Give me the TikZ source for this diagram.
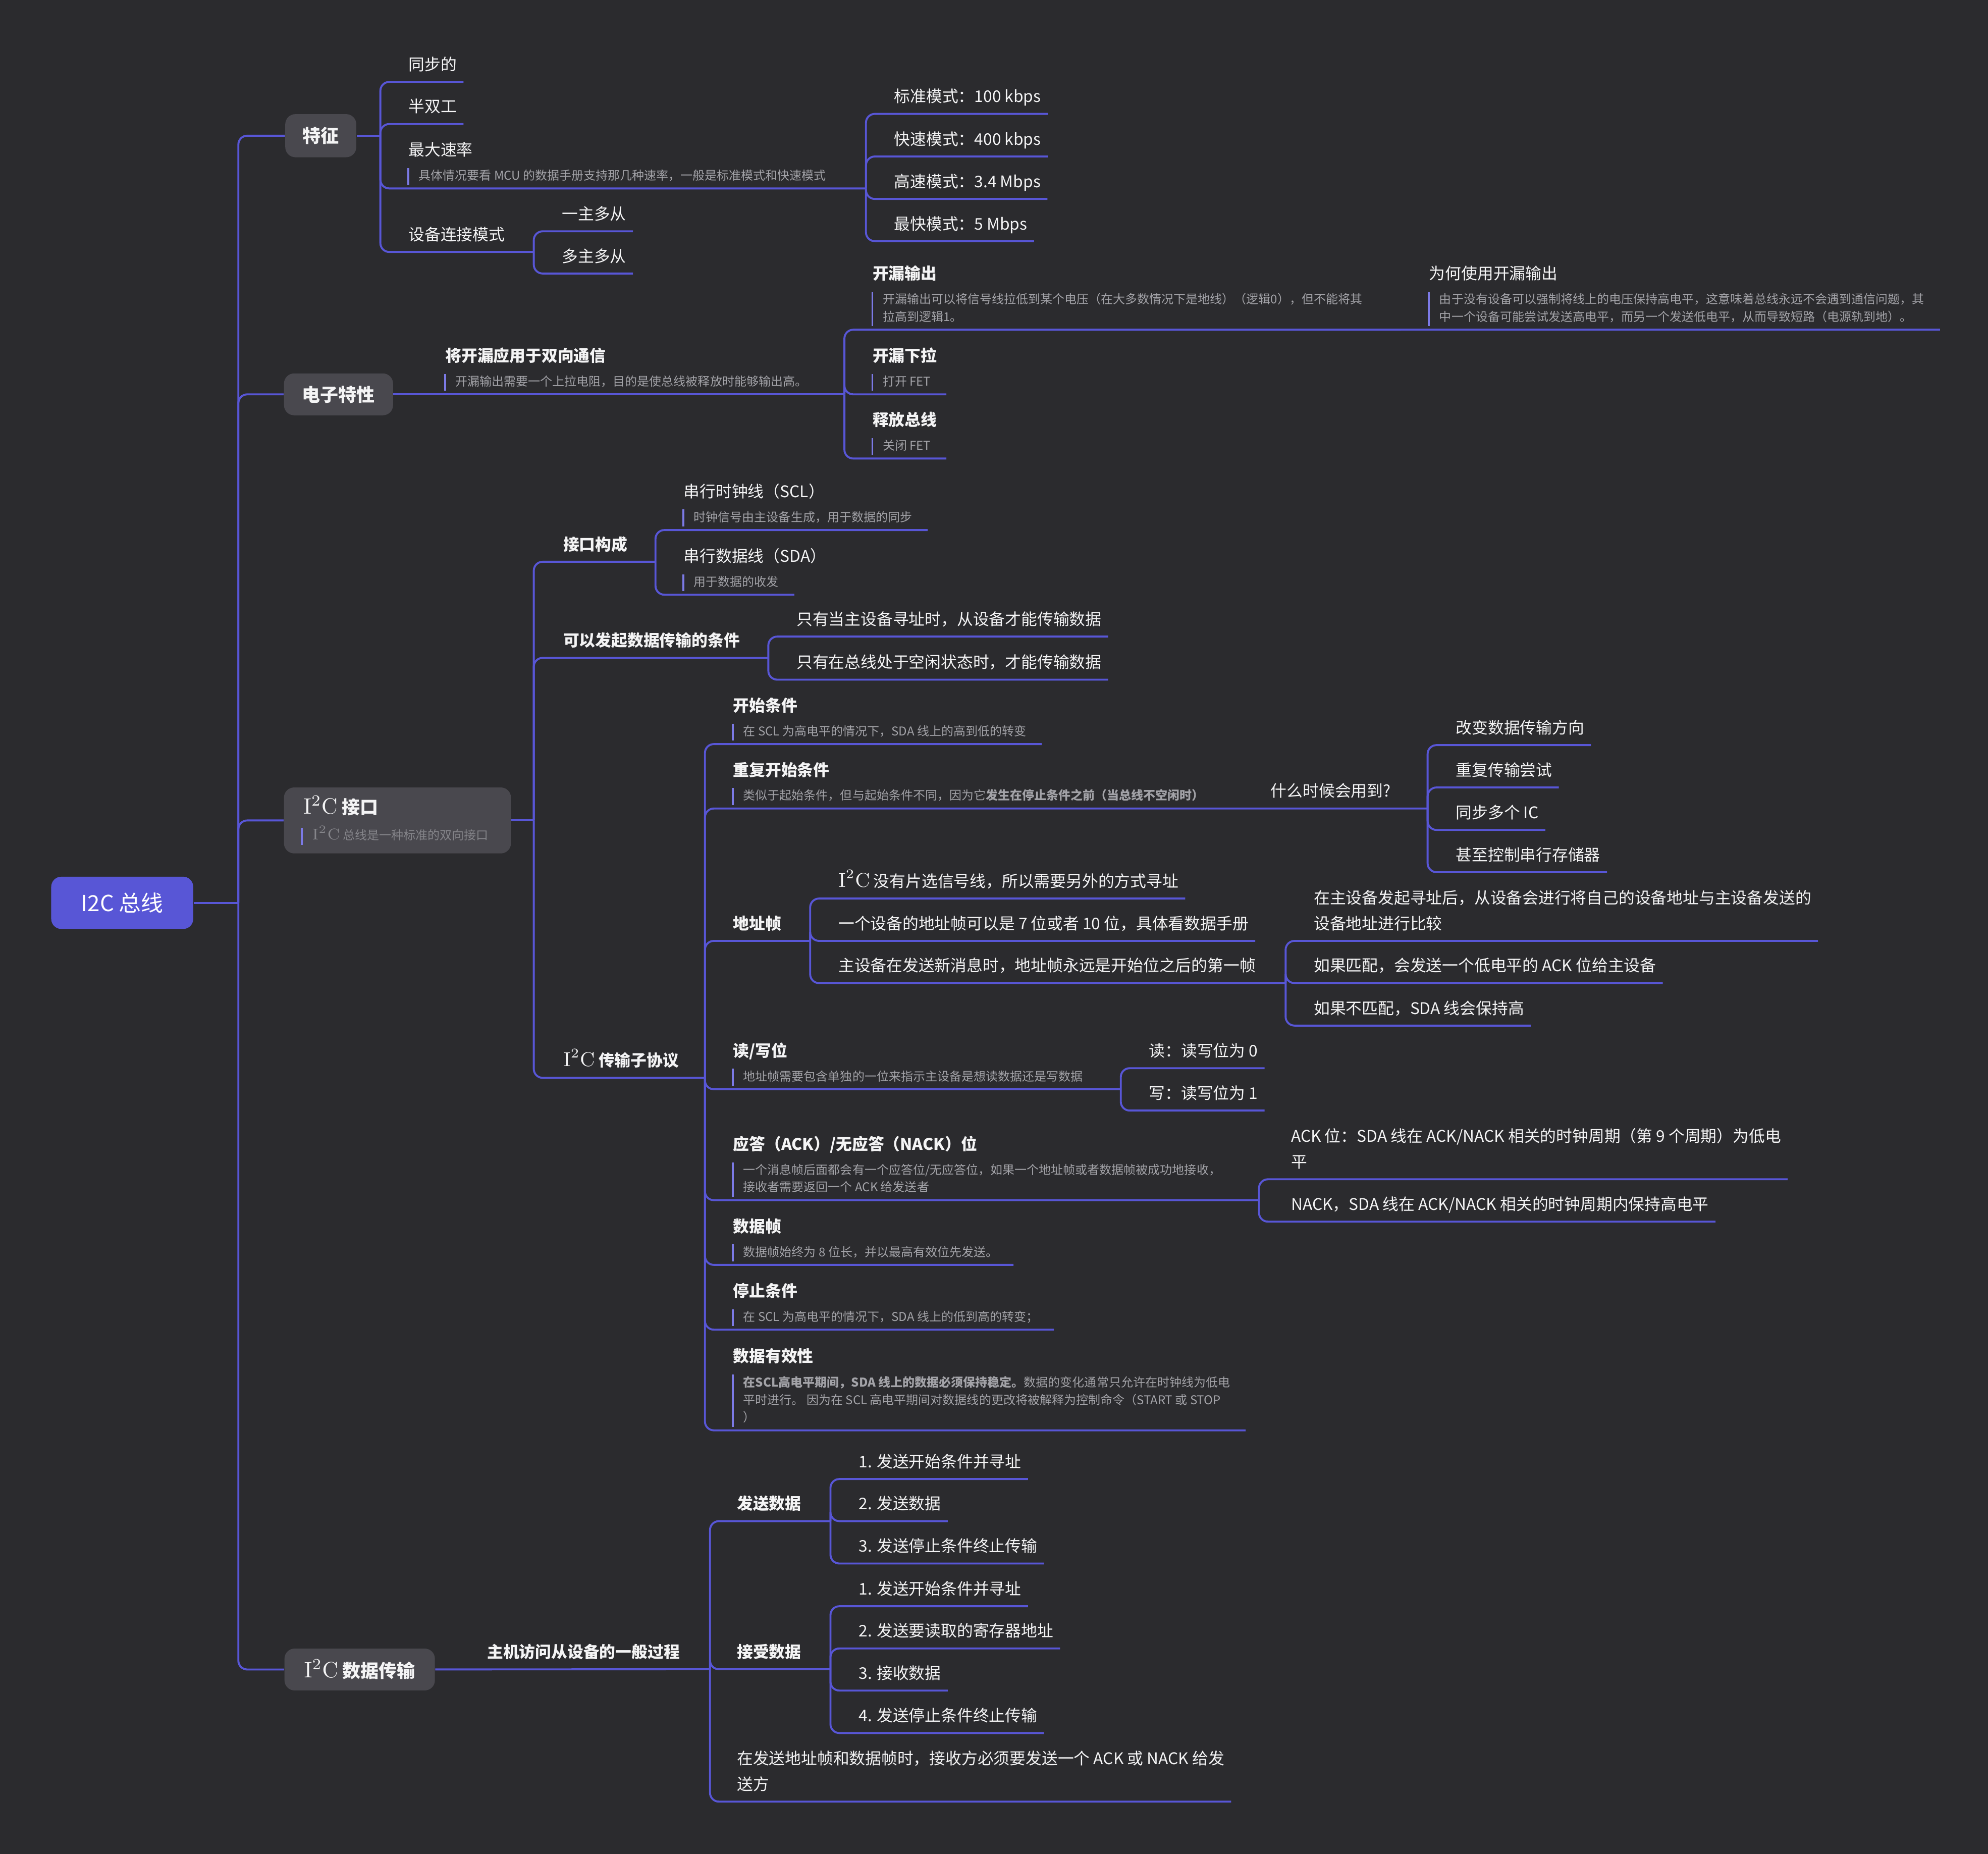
\documentclass[tikz,border=0pt]{standalone}
\usepackage[no-math]{fontspec}
\setmainfont{Noto Sans CJK SC}
\usepackage{graphicx}
\usepackage{tikz}
\usetikzlibrary{calc}
\usepackage{xcolor}
\definecolor{BgDark}{HTML}{2B2B2E}
\definecolor{Indigo}{HTML}{5856D6}
\definecolor{BoxGray}{HTML}{49484E}
\definecolor{NoteGray}{HTML}{A3A3A8}
\definecolor{BoxNote}{HTML}{85858A}
\definecolor{BarViolet}{HTML}{7C7AE6}
\definecolor{TextWhite}{HTML}{F4F4F5}
\newcommand{\iic}{\scalebox{1.25}{$\mathrm{I}^{2}\mathrm{C}$}}

\begin{document}
\begin{tikzpicture}[x=0.025cm,y=-0.025cm,
  branch/.style={draw=Indigo,line width=1.1pt,rounded corners=0.175cm},
  topic/.style={anchor=south west,inner sep=0pt,text height=0.25cm,text depth=0.22cm,text=TextWhite,font=\fontsize{9}{11}\selectfont},
  topicb/.style={topic,font=\fontsize{9}{11}\selectfont\bfseries},
  topicl/.style={topic,anchor=base west},
  heading/.style={anchor=base west,inner sep=0pt,text=TextWhite,font=\fontsize{9}{11}\selectfont\bfseries},
  headingr/.style={heading,font=\fontsize{9}{11}\selectfont},
  memo/.style={anchor=south west,inner sep=0pt,text height=0.23cm,text depth=0.16cm,text=NoteGray,font=\fontsize{6.8}{9}\selectfont},
  memol/.style={memo,anchor=base west},
  notebar/.style={draw=BarViolet,line width=1pt},
  mainbox/.style={fill=BoxGray,rounded corners=0.2cm,text=TextWhite,font=\fontsize{10.2}{12}\selectfont\bfseries,inner sep=0pt},
  rootbox/.style={fill=Indigo,rounded corners=0.2cm,text=white,font=\fontsize{12.4}{14}\selectfont,inner sep=0pt}]
  \fill[BgDark] (0,0) rectangle (1568,1462);
  \useasboundingbox (0,0) rectangle (1568,1462);

  % root and main branches
  \node[rootbox,minimum width=2.8cm,minimum height=1.03cm] (root) at (96.4,712) {I2C 总线};
  \coordinate (root-j) at (188,712);
  \node[mainbox,minimum width=1.4cm,minimum height=0.85cm] (feat) at (253,107) {特征};
  \node[mainbox,minimum width=2.15cm,minimum height=0.825cm] (elec) at (267,311) {电子特性};
  \node[mainbox,minimum width=4.475cm,minimum height=1.3cm] (iface) at (313.5,647) {};
  \node[mainbox,minimum width=2.965cm,minimum height=0.825cm] (xfer) at (283.7,1316.6) {\iic\ 数据传输};
  \draw[branch] (root) -- (root-j);
  \foreach \b in {feat,elec,iface,xfer}
    \draw[branch] (root-j) |- (\b.west);

  % features
  \coordinate (feat-j) at (300,107);
  \draw[branch] (feat) -- (feat-j);
  \node[topic] (sync) at (322,64.6) {同步的};
  \node[topic] (half) at (322,97.8) {半双工};
  \node[headingr] (speed) at (322,122.9) {最大速率};
  \node[memo] (speed-n) at (330,148.6) {具体情况要看 MCU 的数据手册支持那几种速率，一般是标准模式和快速模式};
  \coordinate (speed-j) at (683,148.6);
  \node[topic] (conn) at (322,198.7) {设备连接模式};
  \coordinate (conn-j) at (421,198.7);
  \foreach \t in {sync,half}
    \draw[branch] (feat-j) |- ([xshift=0.125cm]\t.south east);
  \foreach \c in {speed-j,conn-j}
    \draw[branch] (feat-j) |- (\c);

  \node[topic] (std) at (705,89.8) {标准模式：100 kbps};
  \node[topic] (fast) at (705,123.4) {快速模式：400 kbps};
  \node[topic] (high) at (705,156.9) {高速模式：3.4 Mbps};
  \node[topic] (ultra) at (705,190.2) {最快模式：5 Mbps};
  \foreach \t in {std,fast,high,ultra}
    \draw[branch] (speed-j) |- ([xshift=0.125cm]\t.south east);

  \node[topic] (onem) at (443,182.4) {一主多从};
  \node[topic] (manym) at (443,215.7) {多主多从};
  \foreach \t in {onem,manym}
    \draw[branch] (conn-j) |- ([xshift=0.125cm]\t.south east);

  % electrical
  \node[heading] (bidir) at (351,285.3) {将开漏应用于双向通信};
  \node[memo] (bidir-n) at (359,311) {开漏输出需要一个上拉电阻，目的是使总线被释放时能够输出高。};
  \coordinate (elec-j) at (666,311);
  \draw[branch] (elec) -- (elec-j);
  \node[heading] (od) at (688,220.3) {开漏输出};
  \node[memol] (od-n1) at (696,239.6) {开漏输出可以将信号线拉低到某个电压（在大多数情况下是地线）（逻辑0），但不能将其};
  \node[memo] (od-n2) at (696,260) {拉高到逻辑1。};
  \coordinate (od-j) at (1105,260);
  \node[headingr] (why) at (1127,220.3) {为何使用开漏输出};
  \node[memol] (why-n1) at (1135,239.6) {由于没有设备可以强制将线上的电压保持高电平，这意味着总线永远不会遇到通信问题，其};
  \node[memo] (why-n2) at (1135,260) {中一个设备可能尝试发送高电平，而另一个发送低电平，从而导致短路（电源轨到地）。};
  \node[heading] (pull) at (688,285.3) {开漏下拉};
  \node[memo] (pull-n) at (696,311) {打开 FET};
  \node[heading] (rel) at (688,335.9) {释放总线};
  \node[memo] (rel-n) at (696,361.6) {关闭 FET};
  \draw[branch] (elec-j) |- (od-j);
  \draw[branch] (od-j) -- ($(why-n1.south east |- why-n2.south)+(12,0)$);
  \foreach \t in {pull-n,rel-n}
    \draw[branch] (elec-j) |- ([xshift=0.3cm]\t.south east);

  % interface
  \node[heading,font=\fontsize{10.2}{12}\selectfont\bfseries] (iface-t) at (239,641.8) {\iic\ 接口};
  \node[memo,text=BoxNote] (iface-n) at (246,669) {\iic\ 总线是一种标准的双向接口};
  \coordinate (iface-j) at (421,647);
  \draw[branch] (iface) -- (iface-j);
  \node[topicb] (comp) at (444,443) {接口构成};
  \coordinate (comp-j) at (517,443);
  \node[topicb] (cond) at (444,518.8) {可以发起数据传输的条件};
  \coordinate (cond-j) at (606,518.8);
  \node[topicb] (sub) at (444,850) {\iic\ 传输子协议};
  \coordinate (sub-j) at (556,850);
  \foreach \c in {comp-j,cond-j,sub-j}
    \draw[branch] (iface-j) |- (\c);

  \node[headingr] (scl) at (539,392.3) {串行时钟线（SCL）};
  \node[memo] (scl-n) at (547,418) {时钟信号由主设备生成，用于数据的同步};
  \node[headingr] (sda) at (539,443.3) {串行数据线（SDA）};
  \node[memo] (sda-n) at (547,469) {用于数据的收发};
  \foreach \t in {scl-n,sda-n}
    \draw[branch] (comp-j) |- ([xshift=0.3cm]\t.south east);

  \node[topic] (only1) at (628,502) {只有当主设备寻址时，从设备才能传输数据};
  \node[topic] (only2) at (628,536) {只有在总线处于空闲状态时，才能传输数据};
  \foreach \t in {only1,only2}
    \draw[branch] (cond-j) |- ([xshift=0.125cm]\t.south east);

  % sub-protocol
  \node[heading] (startc) at (578,561.1) {开始条件};
  \node[memo] (startc-n) at (586,586.8) {在 SCL 为高电平的情况下，SDA 线上的高到低的转变};
  \node[heading] (rstart) at (578,611.9) {重复开始条件};
  \node[memo] (rstart-n) at (586,637.6) {类似于起始条件，但与起始条件不同，因为它\textbf{发生在停止条件之前（当总线不空闲时）}};
  \node[topic] (when) at (1002,637.6) {什么时候会用到?};
  \coordinate (when-j) at (1126,637.6);
  \node[topicb] (addr) at (578,742) {地址帧};
  \coordinate (addr-j) at (639,742);
  \node[heading] (rw) at (578,833.3) {读/写位};
  \node[memo] (rw-n) at (586,859) {地址帧需要包含单独的一位来指示主设备是想读数据还是写数据};
  \coordinate (rw-j) at (884,859);
  \node[heading] (ack) at (578,906.8) {应答（ACK）/无应答（NACK）位};
  \node[memol] (ack-n1) at (586,926.1) {一个消息帧后面都会有一个应答位/无应答位，如果一个地址帧或者数据帧被成功地接收，};
  \node[memo] (ack-n2) at (586,946.5) {接收者需要返回一个 ACK 给发送者};
  \coordinate (ack-j) at (993,946.5);
  \node[heading] (frame) at (578,971.8) {数据帧};
  \node[memo] (frame-n) at (586,997.5) {数据帧始终为 8 位长，并以最高有效位先发送。};
  \node[heading] (stopc) at (578,1022.9) {停止条件};
  \node[memo] (stopc-n) at (586,1048.6) {在 SCL 为高电平的情况下，SDA 线上的低到高的转变；};
  \node[heading] (valid) at (578,1074.3) {数据有效性};
  \node[memol] (valid-n1) at (586,1093.6) {\textbf{在SCL高电平期间，SDA 线上的数据必须保持稳定。}数据的变化通常只允许在时钟线为低电};
  \node[memol] (valid-n2) at (586,1107.6) {平时进行。 因为在 SCL 高电平期间对数据线的更改将被解释为控制命令（START 或 STOP};
  \node[memo] (valid-n3) at (586,1128) {）};
  \foreach \c in {when-j,addr-j,rw-j,ack-j}
    \draw[branch] (sub-j) |- (\c);
  \foreach \t in {startc-n,frame-n,stopc-n}
    \draw[branch] (sub-j) |- ([xshift=0.3cm]\t.south east);
  \draw[branch] (sub-j) |- ($(valid-n1.south east |- valid-n3.south)+(12,0)$);

  \node[topic] (use1) at (1148,587.6) {改变数据传输方向};
  \node[topic] (use2) at (1148,621) {重复传输尝试};
  \node[topic] (use3) at (1148,654.5) {同步多个 IC};
  \node[topic] (use4) at (1148,687.8) {甚至控制串行存储器};
  \foreach \t in {use1,use2,use3,use4}
    \draw[branch] (when-j) |- ([xshift=0.125cm]\t.south east);

  \node[topic] (nocs) at (661,708.6) {\iic\ 没有片选信号线，所以需要另外的方式寻址};
  \node[topic] (alen) at (661,742) {一个设备的地址帧可以是 7 位或者 10 位，具体看数据手册};
  \node[topic] (afirst) at (661,775.3) {主设备在发送新消息时，地址帧永远是开始位之后的第一帧};
  \coordinate (afirst-j) at (1014,775.3);
  \foreach \t in {nocs,alen}
    \draw[branch] (addr-j) |- ([xshift=0.125cm]\t.south east);
  \draw[branch] (addr-j) |- (afirst-j);

  \node[topicl] (cmp1) at (1036,712.7) {在主设备发起寻址后，从设备会进行将自己的设备地址与主设备发送的};
  \node[topic] (cmp2) at (1036,742) {设备地址进行比较};
  \node[topic] (match) at (1036,775.3) {如果匹配，会发送一个低电平的 ACK 位给主设备};
  \node[topic] (nomatch) at (1036,808.8) {如果不匹配，SDA 线会保持高};
  \draw[branch] (afirst-j) |- ($(cmp1.south east |- cmp2.south)+(5,0)$);
  \foreach \t in {match,nomatch}
    \draw[branch] (afirst-j) |- ([xshift=0.125cm]\t.south east);

  \node[topic] (rd) at (906,842.4) {读：读写位为 0};
  \node[topic] (wr) at (906,875.8) {写：读写位为 1};
  \foreach \t in {rd,wr}
    \draw[branch] (rw-j) |- ([xshift=0.125cm]\t.south east);

  \node[topicl] (ackl1) at (1018,900.7) {ACK 位：SDA 线在 ACK/NACK 相关的时钟周期（第 9 个周期）为低电};
  \node[topic] (ackl2) at (1018,930) {平};
  \node[topic] (nack) at (1018,963.4) {NACK，SDA 线在 ACK/NACK 相关的时钟周期内保持高电平};
  \draw[branch] (ack-j) |- ($(ackl1.south east |- ackl2.south)+(5,0)$);
  \draw[branch] (ack-j) |- ([xshift=0.125cm]nack.south east);

  % data transfer
  \node[topicb] (proc) at (384,1316.4) {主机访问从设备的一般过程};
  \coordinate (xfer-j) at (560,1316.4);
  \draw[branch] (xfer) -- (xfer-j);
  \node[topicb] (send) at (581,1199.6) {发送数据};
  \coordinate (send-j) at (655,1199.6);
  \node[topicb] (recv) at (581,1316.4) {接受数据};
  \coordinate (recv-j) at (655,1316.4);
  \node[topicl] (rule1) at (581,1391.5) {在发送地址帧和数据帧时，接收方必须要发送一个 ACK 或 NACK 给发};
  \node[topic] (rule2) at (581,1420.8) {送方};
  \foreach \c in {send-j,recv-j}
    \draw[branch] (xfer-j) |- (\c);
  \draw[branch] (xfer-j) |- ($(rule1.south east |- rule2.south)+(5,0)$);

  \node[topic] (s1) at (677,1166.4) {1. 发送开始条件并寻址};
  \node[topic] (s2) at (677,1199.6) {2. 发送数据};
  \node[topic] (s3) at (677,1233) {3. 发送停止条件终止传输};
  \foreach \t in {s1,s2,s3}
    \draw[branch] (send-j) |- ([xshift=0.125cm]\t.south east);

  \node[topic] (r1) at (677,1266.7) {1. 发送开始条件并寻址};
  \node[topic] (r2) at (677,1300) {2. 发送要读取的寄存器地址};
  \node[topic] (r3) at (677,1333.2) {3. 接收数据};
  \node[topic] (r4) at (677,1366.7) {4. 发送停止条件终止传输};
  \foreach \t in {r1,r2,r3,r4}
    \draw[branch] (recv-j) |- ([xshift=0.125cm]\t.south east);

  % note bars
  \foreach \a/\b in {speed-n/speed-n,bidir-n/bidir-n,od-n1/od-n2,why-n1/why-n2,pull-n/pull-n,rel-n/rel-n,
      iface-n/iface-n,scl-n/scl-n,sda-n/sda-n,startc-n/startc-n,rstart-n/rstart-n,rw-n/rw-n,
      ack-n1/ack-n2,frame-n/frame-n,stopc-n/stopc-n,valid-n1/valid-n3}
    \draw[notebar] ([xshift=-0.2cm]\a.north west) -- ([xshift=-0.2cm,yshift=0.07cm]\b.south west);
\end{tikzpicture}
\end{document}
